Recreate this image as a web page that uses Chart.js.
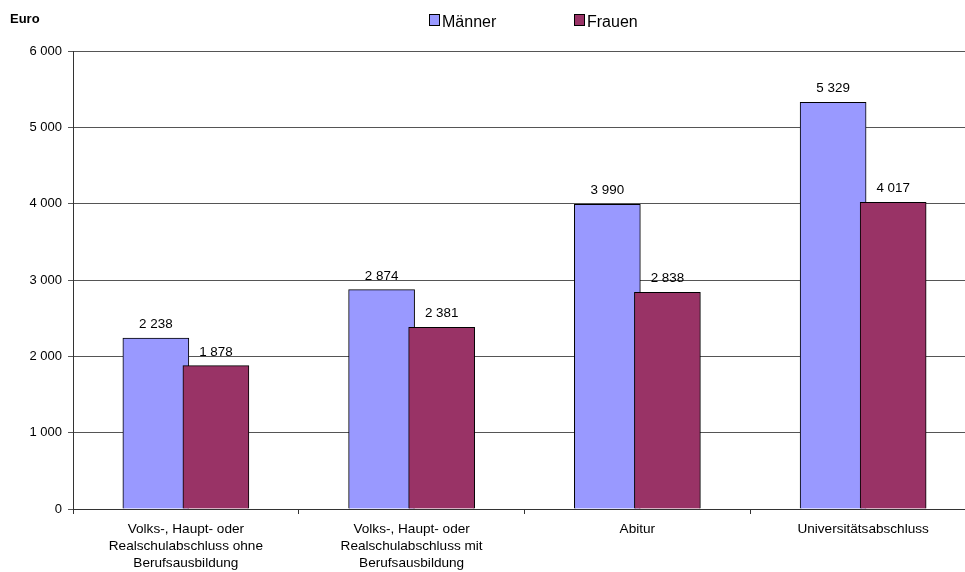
<!DOCTYPE html>
<html>
<head>
<meta charset="utf-8">
<script src="https://cdn.jsdelivr.net/npm/chart.js@4/dist/chart.umd.min.js"></script>
<style>
    html, body { margin: 0; padding: 0; background: #fff; overflow: hidden; }
    .chart-container { position: relative; width: 976px; height: 572px; }
</style>
</head>
<body>
<div class="chart-container">
    <canvas id="chart"></canvas>
</div>
<script>
// Data
const categories = [
    ['Volks-, Haupt- oder', 'Realschulabschluss ohne', 'Berufsausbildung'],
    ['Volks-, Haupt- oder', 'Realschulabschluss mit', 'Berufsausbildung'],
    'Abitur',
    'Universitätsabschluss'
];
const maenner = [2238, 2874, 3990, 5329];
const frauen = [1878, 2381, 2838, 4017];
const seriesNames = ['Männer', 'Frauen'];
const yTicks = [0, 1000, 2000, 3000, 4000, 5000, 6000];

const FONT = '"Liberation Sans", Arial, sans-serif';

function fmt(v) {
    return String(v).replace(/\B(?=(\d{3})+(?!\d))/g, ' ');
}

// bars sit slightly left / right of the category centre and overlap a bit
const shift = 0.133;

// value labels above each bar
const valueLabels = {
    id: 'valueLabels',
    afterDatasetsDraw(chart) {
        const ctx = chart.ctx;
        ctx.save();
        ctx.font = '13.4px ' + FONT;
        ctx.fillStyle = '#000';
        ctx.textAlign = 'center';
        ctx.textBaseline = 'alphabetic';
        chart.data.datasets.forEach((ds, i) => {
            const meta = chart.getDatasetMeta(i);
            meta.data.forEach((bar, j) => {
                ctx.fillText(fmt(ds.data[j].y), bar.x, bar.y - 10);
            });
        });
        ctx.restore();
    }
};

// "Euro" unit label and the legend at the top
const headerBits = {
    id: 'headerBits',
    afterDraw(chart) {
        const ctx = chart.ctx;
        ctx.save();
        ctx.fillStyle = '#000';
        ctx.font = 'bold 13px ' + FONT;
        ctx.textBaseline = 'alphabetic';
        ctx.fillText('Euro', 10, 23);

        const xs = [429, 574];
        ctx.font = '16px ' + FONT;
        seriesNames.forEach((name, i) => {
            const ds = chart.data.datasets[i];
            ctx.fillStyle = ds.backgroundColor;
            ctx.fillRect(xs[i] + 0.5, 14.5, 10, 11);
            ctx.strokeStyle = '#000';
            ctx.lineWidth = 1;
            ctx.strokeRect(xs[i] + 0.5, 14.5, 10, 11);
            ctx.fillStyle = '#000';
            ctx.fillText(name, xs[i] + 13, 27);
        });
        ctx.restore();
    }
};

const ctx = document.getElementById('chart').getContext('2d');

window.myChart = new Chart(ctx, {
    type: 'bar',
    data: {
        labels: categories,
        datasets: [
            {
                label: seriesNames[0],
                data: maenner.map((v, i) => ({ x: i - shift, y: v })),
                backgroundColor: '#9999FF',
                borderColor: '#000',
                borderWidth: 1,
                xAxisID: 'xb',
                order: 2
            },
            {
                label: seriesNames[1],
                data: frauen.map((v, i) => ({ x: i + shift, y: v })),
                backgroundColor: '#993366',
                borderColor: '#000',
                borderWidth: 1,
                xAxisID: 'xb',
                order: 1
            }
        ]
    },
    options: {
        responsive: true,
        maintainAspectRatio: false,
        animation: false,
        grouped: false,
        barThickness: 66,
        layout: {
            padding: { top: 51, right: 0, left: 0, bottom: 0 }
        },
        plugins: {
            legend: { display: false },
            tooltip: { enabled: false }
        },
        scales: {
            x: {
                type: 'category',
                offset: true,
                ticks: {
                    color: '#000',
                    font: { family: FONT, size: 13.6, lineHeight: 1.23 },
                    maxRotation: 0,
                    autoSkip: false,
                    padding: 7
                },
                grid: {
                    offset: true,
                    drawOnChartArea: false,
                    drawTicks: true,
                    tickLength: 5,
                    color: '#333'
                },
                border: { color: '#333', width: 1 },
                afterFit(scale) { scale.height = 63; }
            },
            xb: {
                type: 'linear',
                display: false,
                offset: false,
                min: -0.5,
                max: 3.5
            },
            y: {
                min: 0,
                max: 6000,
                afterBuildTicks(scale) {
                    scale.ticks = yTicks.map(v => ({ value: v }));
                },
                ticks: {
                    color: '#000',
                    font: { family: FONT, size: 13 },
                    padding: 6,
                    callback: v => fmt(v)
                },
                grid: {
                    color: '#555',
                    drawTicks: true,
                    tickLength: 5
                },
                border: { color: '#333', width: 1 },
                afterFit(scale) { scale.width = 73; }
            }
        }
    },
    plugins: [valueLabels, headerBits]
});
</script>
</body>
</html>
